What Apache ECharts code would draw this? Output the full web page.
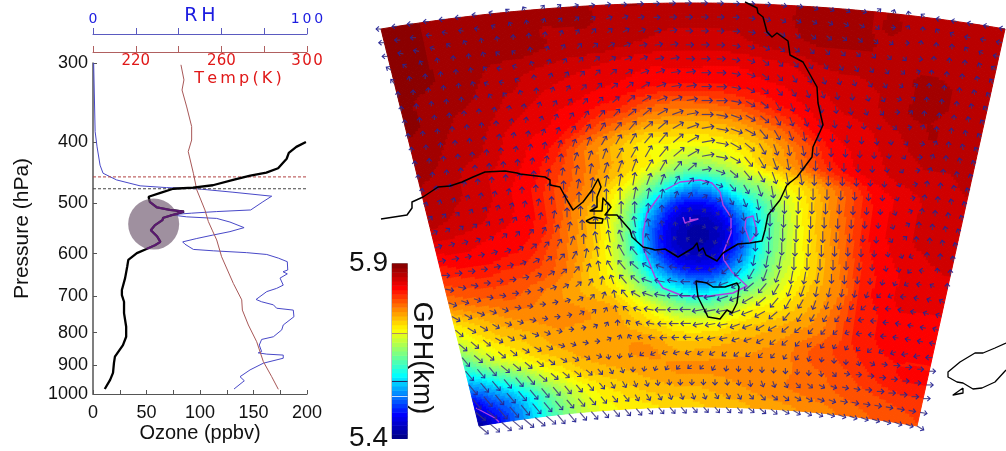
<!DOCTYPE html>
<html><head><meta charset="utf-8">
<style>html,body{margin:0;padding:0;background:#fff}#c{width:1006px;height:451px}</style>
<script src="https://cdn.jsdelivr.net/npm/echarts@6/dist/echarts.min.js"></script>
</head><body><div id="c"></div>
<script>
// ---------- Sounding profile ----------
const ozonePressure=[400,407,416,425,440,447,452,459,468,472,474,481,488,497,507,512,515,518,521,527,531,541,551,564,575,582,590,599,614,629,656,685,698,715,745,783,812,837,873,893,926,950,982];
const ozoneValues=[199,190,183,181,173,162,147,131,112,93.5,75,63,52,53,59.5,72,85,85,75,65.5,65,58,54,60,63,58,50,41,33,32,30,27,27,29,29,31,31,28,20.5,19.6,18.7,16,11];
const rhPressure=[300,385,387,407,409,435,448,459,469,472,474,480,487,497,512,515,518,521,525,528,535,546,554,561,568,575,580,591,594,598,602,610,618,637,641,646,656,673,681,689,709,715,723,732,737,755,778,792,812,820,837,857,861,865,868,878,894,916,939,953,982];
const rhValues=[0.3,1,1.9,1.9,2.8,3.3,4.7,11,22,34.4,48.5,65.4,83.5,79.4,73.7,57.8,46.1,36,43.8,57.8,64,70.6,64,56,48.5,41.9,43,46.9,56.2,71.8,81.2,86.6,90.8,91,88.8,90.8,87.4,88.9,85.8,81.2,76.2,78.8,84.3,85.8,93.6,93.9,88.9,88.2,84.3,78.8,77.7,78.8,77.2,81.2,88.9,88.9,79.6,73.4,68.7,70.7,65.9];
const tempPressure=[302,319,331,352,378,397,414,448,476,512,534,551,571,607,669,710,737,778,827,889,939,983];
const tempValues=[241.1,242.5,241.6,243.8,246.1,246.1,244.5,246.9,248.5,252.3,253.9,255.7,257.8,260.1,265.6,269.5,269.8,272.6,276.5,279.6,283.5,286.6];
const dashPressures=[454,474];
const layerCentre=[56.7,539];
const layerBottom=497, layerTop=590;
const pressureTicks=[300,400,500,600,700,800,900,1000];

// ---------- GPH field: rows north to south, 0-100 = 5.4-5.9 km ----------
const gphGrid=[
[98,98,97,97,96,96,96,96,95,95,95,94,94,94,94,94,95,96,96,95,95,94,94,93,93],
[98,98,97,96,96,96,95,95,95,94,94,93,93,93,93,94,95,96,96,95,95,94,94,93,93],
[98,98,97,97,96,96,95,94,94,93,92,91,91,91,92,93,94,95,95,95,94,94,94,93,93],
[98,98,97,96,94,93,92,91,90,89,88,88,88,88,88,89,90,92,93,93,94,95,95,94,93],
[98,97,96,95,93,92,90,89,88,87,86,85,85,85,86,87,88,90,91,92,93,95,96,94,93],
[98,97,95,94,92,90,88,87,85,83,79,77,77,78,80,83,86,88,90,91,93,95,95,94,93],
[97,96,94,93,90,88,87,84,79,75,71,70,69,70,72,76,80,86,88,89,91,93,95,94,93],
[96,95,93,92,89,87,84,77,72,67,63,62,61,62,65,69,74,80,86,88,90,92,93,93,93],
[95,94,92,90,88,86,81,76,72,67,62,55,51,54,59,66,71,77,83,87,89,91,92,92,93],
[94,93,92,90,87,84,79,75,68,61,49,38,31,36,46,52,61,67,74,80,86,88,90,91,92],
[93,92,91,89,87,84,78,71,64,51,34,18,13,17,30,42,55,64,72,79,85,88,90,91,92],
[89,89,88,87,86,83,76,70,61,45,24,10,5,8,20,38,52,63,71,78,85,88,90,91,92],
[85,86,86,85,84,80,75,69,60,43,22,9,5,8,19,38,52,62,70,77,84,87,89,90,91],
[80,81,82,81,80,78,74,67,60,47,30,17,12,15,28,42,54,62,69,76,83,86,88,89,89],
[74,76,77,78,76,74,71,68,64,55,42,34,28,31,41,50,58,65,70,75,83,86,88,88,88],
[64,68,71,73,74,74,73,72,70,64,58,50,47,49,56,62,64,68,72,77,83,85,87,87,87],
[56,62,66,68,70,72,72,72,71,69,66,63,62,63,66,68,70,72,74,78,83,85,86,86,86],
[43,52,59,63,67,69,71,72,72,73,72,69,69,70,71,72,73,75,78,80,82,84,85,85,85],
[28,34,42,50,58,63,67,69,70,71,72,73,73,73,73,73,74,75,77,78,80,82,84,85,85],
[12,20,27,36,46,54,60,64,66,68,69,70,70,71,72,73,74,75,76,77,78,79,80,81,81],
[3,12,22,32,42,50,57,61,63,64,65,66,67,68,69,70,71,72,73,74,76,77,78,79,80]
];

// ---------- Wind: direction in tens of degrees from north, and speed ----------
const windDir=[
[27,27,27,27,27,27,28,29,31,33,4,5,7,8,8,9,9,9,9,9,9,9,9,9,9,10,10,12,12,12,11,5,2,35,31,28,28,28,28,28],
[27,27,27,27,28,28,28,30,33,35,2,4,5,6,7,7,8,9,9,9,9,9,9,10,11,12,12,12,12,12,12,13,9,3,0,33,30,28,28,28],
[27,28,28,29,31,33,35,35,0,0,1,2,3,4,5,6,7,8,8,9,9,9,9,10,11,12,13,13,13,13,13,13,13,9,1,0,0,33,30,28],
[30,31,33,35,0,0,34,31,31,35,2,3,4,5,6,7,8,8,8,9,9,9,10,11,12,13,13,14,14,14,14,14,14,14,10,0,0,0,34,31],
[32,35,0,0,0,35,32,28,29,34,2,3,4,5,6,7,7,8,8,9,9,9,10,11,13,14,14,15,15,15,15,15,15,13,7,0,0,0,35,33],
[0,0,0,0,0,34,29,28,30,35,2,3,4,4,5,6,7,7,8,8,9,9,10,11,13,14,15,15,16,16,16,15,15,12,6,0,0,0,35,33],
[0,0,0,0,0,35,33,32,34,0,2,3,4,4,5,5,6,7,8,8,9,9,10,12,13,14,15,16,16,17,17,16,15,11,5,0,0,0,35,33],
[0,0,0,0,0,0,1,1,1,2,3,3,4,4,5,5,6,7,7,8,9,9,10,12,13,15,16,16,17,17,17,16,14,9,4,0,0,0,35,33],
[0,0,0,0,0,0,0,1,1,2,2,3,3,4,4,5,5,6,7,8,9,10,11,12,13,15,16,16,17,17,17,17,16,13,8,2,0,0,35,33],
[0,0,0,0,0,0,1,1,1,2,2,3,3,3,4,4,5,5,6,7,8,10,11,12,14,15,16,17,17,18,18,18,17,17,15,10,3,0,35,33],
[0,0,0,0,0,0,0,1,1,1,2,2,2,3,3,3,4,4,5,6,8,10,12,13,15,16,17,17,18,18,18,18,18,17,15,9,2,0,35,34],
[0,0,0,0,0,0,0,0,1,1,1,2,2,2,3,3,3,4,5,6,8,10,12,14,15,16,17,17,18,18,18,18,18,17,15,8,2,0,35,34],
[1,1,1,1,0,0,0,0,0,1,1,1,1,2,2,2,3,3,4,5,8,11,13,14,15,16,17,17,18,18,18,18,18,18,16,8,1,0,35,34],
[2,2,2,2,1,1,1,0,0,0,0,1,1,1,1,1,2,2,3,4,7,11,14,15,16,17,17,18,18,18,18,18,18,18,16,8,1,0,35,34],
[4,4,4,3,3,2,2,1,1,0,0,0,0,0,0,1,1,1,2,3,6,12,15,16,17,17,18,18,18,18,18,18,18,18,16,7,1,0,35,34],
[6,5,5,5,4,3,3,2,1,1,0,0,0,0,0,0,0,0,1,2,5,13,16,17,17,18,18,18,18,18,18,18,18,18,16,6,0,0,35,34],
[7,7,7,6,6,5,4,4,3,2,1,0,0,35,35,35,35,35,35,33,12,17,18,18,18,18,18,18,18,18,18,18,18,18,15,5,0,0,35,34],
[8,8,8,8,7,7,6,5,4,3,2,0,35,35,34,34,33,33,32,30,24,20,19,19,18,18,18,18,18,18,18,18,18,18,17,16,25,0,0,35],
[9,9,9,9,8,8,7,6,5,4,3,1,35,34,33,32,31,30,29,27,25,23,21,20,19,19,19,18,18,18,18,18,18,18,17,17,22,28,0,0],
[10,10,10,9,9,9,8,7,6,5,4,2,35,33,32,31,30,29,28,27,26,25,23,22,21,20,20,19,19,19,18,18,18,18,19,20,24,28,30,0],
[11,11,11,10,10,9,9,8,7,6,5,3,1,34,32,31,29,28,28,27,26,26,25,24,23,22,21,20,20,19,19,19,19,20,22,25,27,28,29,30],
[12,12,11,11,11,10,10,9,8,7,6,4,2,35,32,30,29,28,27,27,26,26,25,25,24,23,22,21,21,20,20,20,21,23,25,27,28,28,29,29],
[13,12,12,12,11,11,10,10,9,8,6,5,3,35,31,29,28,27,27,27,26,26,26,25,25,24,23,22,21,21,21,22,24,26,27,27,28,28,28,29],
[13,13,13,12,12,12,11,11,10,9,8,6,3,0,33,29,28,27,27,27,26,26,26,25,25,24,24,23,23,22,22,23,25,26,27,27,28,28,28,28],
[14,13,13,13,13,12,12,12,11,11,10,9,6,2,33,29,28,27,27,27,26,26,26,25,25,24,23,23,22,22,21,21,21,22,23,24,25,26,26,27],
[14,14,14,13,13,13,13,13,12,12,12,11,17,19,21,23,24,25,25,25,24,24,23,23,23,22,22,21,21,20,19,18,18,16,12,10,9,9,9,9],
[14,14,14,14,14,14,13,13,13,13,13,14,15,16,18,19,20,21,22,23,22,21,19,18,18,18,18,18,18,18,17,14,10,9,9,9,9,9,9,9],
[14,14,14,14,14,14,14,14,14,14,14,14,15,15,16,16,17,17,18,18,18,18,17,17,17,16,16,15,14,13,12,11,10,10,9,9,9,9,9,9],
[13,13,14,14,14,14,14,14,14,14,14,14,14,14,15,15,15,16,16,16,16,15,15,15,14,14,13,13,12,12,11,11,10,10,10,10,10,10,10,10],
[13,13,13,13,13,13,13,14,14,14,14,14,14,14,14,14,14,14,14,14,14,14,14,14,13,13,13,12,12,12,12,11,11,11,11,11,11,11,11,12]
];
const windSpeed=[
[4,4,5,5,5,5,4,3,3,3,4,4,5,5,5,5,6,6,6,6,6,6,6,5,5,5,5,5,5,5,5,4,3,3,4,4,5,5,5,5],
[5,5,5,5,5,4,4,3,3,3,4,4,5,5,6,6,6,6,7,7,7,7,6,6,6,6,5,5,5,5,5,4,3,3,3,4,4,5,5,5],
[5,5,5,4,4,4,4,4,4,4,4,5,5,6,6,7,7,7,7,7,7,7,7,7,6,6,6,6,6,5,5,5,4,3,3,3,4,4,4,5],
[5,4,4,4,4,4,4,4,3,4,4,5,6,6,7,7,8,8,8,8,8,8,8,7,7,7,6,6,6,6,5,5,5,4,3,3,4,4,4,5],
[5,4,4,4,4,4,4,4,4,4,5,5,6,7,7,8,8,9,9,9,9,9,8,8,8,7,7,7,6,6,6,5,5,4,3,3,4,4,4,5],
[5,4,4,4,4,4,4,4,4,4,5,6,6,7,8,8,9,10,10,10,10,10,9,9,9,8,8,7,7,6,6,6,5,4,3,4,4,4,4,5],
[4,4,4,4,4,4,4,4,4,5,5,6,7,8,8,9,10,11,11,11,11,11,10,10,9,9,8,8,7,7,6,6,5,4,3,4,4,4,4,5],
[4,4,4,4,4,4,4,4,4,5,6,7,7,8,9,10,11,12,12,12,12,12,11,11,10,10,9,8,8,7,7,6,5,4,3,4,4,4,5,5],
[4,4,4,4,4,4,4,5,5,5,6,7,8,9,10,11,12,13,13,13,13,13,13,12,12,11,10,9,9,8,7,6,5,4,3,4,4,5,5,5],
[4,4,4,4,4,4,5,5,5,6,7,8,9,10,11,12,13,14,14,14,14,14,14,13,13,12,11,10,9,8,8,7,6,4,3,4,4,5,5,5],
[4,4,4,4,4,5,5,5,6,7,8,8,10,11,12,13,14,15,15,15,15,14,14,14,14,13,12,11,10,9,8,7,6,4,3,4,4,5,5,5],
[4,4,4,4,5,5,5,6,6,7,8,9,10,12,13,14,15,15,16,15,14,13,13,14,14,14,13,12,11,10,9,8,6,4,3,4,5,5,5,5],
[4,4,4,5,5,5,6,6,7,8,8,10,11,12,14,15,15,14,13,12,10,10,11,13,14,14,14,13,12,11,9,8,6,5,3,4,5,5,5,5],
[4,4,4,5,5,5,6,6,7,8,9,10,11,13,14,15,14,12,10,8,7,7,9,11,13,14,14,14,13,11,10,8,7,5,3,4,5,5,5,5],
[5,5,4,5,5,5,6,6,7,8,9,11,12,13,14,14,12,10,7,6,5,5,7,9,12,14,15,14,13,12,10,9,7,5,4,4,5,5,5,5],
[6,5,5,5,5,6,6,6,7,8,10,11,12,14,14,13,10,7,5,4,3,3,5,8,11,14,15,15,14,12,11,9,7,5,4,4,5,5,5,5],
[7,6,6,5,5,6,6,7,7,8,10,11,13,14,14,12,8,5,3,2,2,2,4,7,10,14,15,15,14,13,11,9,7,6,4,4,4,5,5,5],
[7,7,6,6,6,6,6,7,7,8,10,11,13,14,14,12,8,5,3,2,2,3,5,8,11,14,15,15,14,13,11,9,8,6,4,4,4,4,5,5],
[8,7,7,6,6,6,6,7,7,8,9,10,12,13,14,12,9,7,5,4,4,5,7,9,12,14,15,15,14,13,11,9,8,6,5,4,4,4,4,5],
[9,8,7,6,6,6,6,6,7,7,8,9,11,12,13,12,11,9,8,7,7,8,9,11,13,14,15,15,14,12,10,9,7,6,5,4,4,4,4,5],
[9,8,7,6,6,6,5,5,6,6,7,8,9,10,12,12,12,11,11,10,10,10,11,12,14,14,14,14,13,11,10,8,7,6,5,5,5,4,4,5],
[10,9,8,7,6,6,5,5,5,5,6,6,7,8,10,11,12,12,12,12,12,13,13,13,14,14,14,13,11,10,8,7,6,6,5,5,5,5,5,5],
[11,10,9,8,7,6,6,5,5,4,5,5,5,6,7,8,10,12,12,12,12,13,13,13,13,13,12,11,10,8,7,6,5,5,5,5,5,5,5,5],
[12,11,10,9,8,7,7,6,5,4,4,4,4,5,5,6,8,9,10,11,11,11,11,11,11,10,10,9,8,7,6,5,4,5,5,5,5,5,5,5],
[13,12,11,10,9,8,8,7,6,5,5,4,4,4,4,5,6,7,7,8,8,8,8,8,8,8,7,7,6,6,5,4,4,4,5,5,5,6,6,6],
[14,13,12,12,11,10,9,8,7,7,6,5,4,4,4,4,5,5,6,6,6,6,6,6,6,6,5,5,5,5,4,4,4,4,5,5,6,6,6,6],
[15,14,14,13,13,12,11,10,9,9,8,7,6,5,4,4,4,4,4,4,4,5,5,5,5,5,5,5,5,5,5,5,5,5,6,6,6,6,6,7],
[16,15,15,15,14,14,13,12,11,10,9,8,7,7,6,6,5,5,5,5,5,5,5,5,6,6,6,6,6,6,6,6,6,6,6,7,7,7,7,7],
[15,15,16,16,15,15,14,13,12,11,10,9,8,8,7,7,7,6,6,6,6,6,6,6,6,7,7,7,7,7,7,7,7,7,7,7,7,7,7,7],
[14,14,15,15,15,15,14,13,12,11,11,10,9,9,9,8,8,8,8,7,7,7,7,7,7,8,8,8,8,8,8,8,8,8,8,8,8,8,8,8]
];

// ---------- Map outlines, in map-plane units ----------
const coastMain=[[381,219],[407,215],[412,208],[412,202],[423,197],[438,187],[450,186],[462,182],[473,177],[485,172],[505,171],[517,173],[520,174],[545,177],[550,180],[550,185],[560,187],[567,200],[573,210],[583,202],[592,190],[598,179],[601,187],[597,197],[597,207],[590,211],[602,211],[603,198],[611,207],[605,215],[617,215],[630,230],[632,237],[643,247],[652,249],[655,250],[665,249],[678,257],[693,248],[697,243],[699,251],[703,248],[706,255],[717,261],[723,253],[738,244],[750,243],[762,241],[765,230],[768,215],[780,200],[787,185],[797,177],[812,157],[813,147],[823,125],[818,103],[817,87],[803,62],[790,55],[788,41],[777,33],[772,37],[767,32],[763,17],[758,13],[757,8],[745,2]];
const coastIsland=[[586,221],[594,217],[603,219],[602,223],[590,223],[586,221]];
const coastTasmania=[[696,281],[707,283],[713,287],[725,287],[737,283],[739,287],[737,303],[732,313],[727,310],[720,319],[708,317],[703,307],[698,297],[696,281]];
const coastNZ=[[1006,343],[995,348],[983,353],[975,353],[960,362],[948,372],[948,377],[957,382],[963,383],[973,389],[982,388],[995,382],[1006,370]];
const coastStewart=[[963,388],[953,395],[963,393],[963,388]];
const contourMain=[[665,190],[680,182],[700,180],[712,183],[720,192],[723,205],[731,217],[731,233],[723,253],[724,260],[732,272],[747,286],[733,293],[710,296],[683,296],[663,288],[655,277],[643,247],[643,233],[647,213],[660,195]];
const contourInner=[[683,217],[685,223],[698,219],[690,220],[690,217]];
const contourEast=[[746,218],[753,216],[757,232],[750,242],[745,228],[746,218]];
const contourCorner=[[476,408],[495,418],[499,422]];

// ---------- Colour bar ----------
const barMin=5.4, barMax=5.9, bandCount=40;
const barTicks=[5.4,5.9];
const barLineLevels=[5.70,5.563,5.52];
const barLineColours=['#b09060','#202060','#c0e0ff'];
const rampStops=[[0,[0,0,128]],[.14,[0,0,255]],[.36,[0,255,255]],[.49,[128,255,128]],[.62,[255,255,0]],[.73,[255,145,0]],[.86,[255,0,0]],[1,[128,0,0]]];

function ramp(t){
  for(let k=1;k<rampStops.length;k++){
    if(t<=rampStops[k][0]){
      const a=rampStops[k-1],b=rampStops[k],f=(t-a[0])/(b[0]-a[0]);
      return 'rgb('+a[1].map((c,n)=>Math.round(c+(b[1][n]-c)*f)).join(',')+')';
    }
  }
  return 'rgb(128,0,0)';
}
const bandColours=[];
for(let k=0;k<bandCount;k++)bandColours.push(ramp((k+.5)/bandCount));
const bandRows=bandColours.map((c,k)=>[k]);

// Fan-shaped map grid -> map plane
function gridToMap(u,v){
  const xl=381+98*v,xr=1005-88*v,s=2*u-1;
  return [xl+(xr-xl)*u,3+404*v+(26-7*v)*s*s];
}
const nr=gphGrid.length,nc=gphGrid[0].length;
function at(j,i){j=Math.max(0,Math.min(nr-1,j));i=Math.max(0,Math.min(nc-1,i));return gphGrid[j][i];}
function cr(a,b,c,d,t){return .5*(2*b+(c-a)*t+(2*a-5*b+4*c-d)*t*t+(3*b-a-3*c+d)*t*t*t);}
function fieldAt(fi,fj){
  const i=Math.floor(fi),j=Math.floor(fj),s=fi-i,t=fj-j,r=[];
  for(let m=-1;m<3;m++)r.push(cr(at(j+m,i-1),at(j+m,i),at(j+m,i+1),at(j+m,i+2),s));
  return cr(r[0],r[1],r[2],r[3],t);
}
const cellData=[];
for(let j=0;j<nr-1;j++)for(let i=0;i<nc-1;i++)cellData.push([i,j,gphGrid[j][i]]);
const arrowData=[];
windDir.forEach((row,r)=>row.forEach((d,c)=>arrowData.push([c,r,d,(windSpeed[r]&&windSpeed[r][c])||5])));
const SUB=8;
function renderCell(params,api){
  const i=api.value(0),j=api.value(1),kids=[];
  for(let a=0;a<SUB;a++)for(let b=0;b<SUB;b++){
    const fi=i+(a+.5)/SUB,fj=j+(b+.5)/SUB;
    let k=Math.floor(fieldAt(fi,fj)/100*bandCount);k=Math.max(0,Math.min(bandCount-1,k));
    const pts=[[a,b],[a+1,b],[a+1,b+1],[a,b+1]].map(p=>api.coord(gridToMap((i+p[0]/SUB)/(nc-1),(j+p[1]/SUB)/(nr-1))));
    kids.push({type:'polygon',shape:{points:pts},style:{fill:bandColours[k],stroke:bandColours[k],lineWidth:1},silent:true});
  }
  return {type:'group',children:kids,silent:true};
}
function renderArrow(params,api){
  const c=api.value(0),r=api.value(1),th=api.value(2)*10*Math.PI/180,len=2+api.value(3)*.72;
  const p=gridToMap(c/39,r/29);
  const dirAt=(ang,l,from)=>[from[0]+l*Math.sin(ang),from[1]-l*Math.cos(ang)];
  const tip=dirAt(th,len,p),hl=3.8;
  const h1=dirAt(th+2.4,hl,tip),h2=dirAt(th-2.4,hl,tip);
  return {type:'group',silent:true,children:[
    {type:'polyline',shape:{points:[p,tip].map(q=>api.coord(q))},style:{fill:null,stroke:'rgba(60,50,120,0.85)',lineWidth:1.15},silent:true},
    {type:'polyline',shape:{points:[h1,tip,h2].map(q=>api.coord(q))},style:{fill:null,stroke:'rgba(35,35,150,0.92)',lineWidth:1.1},silent:true}
  ]};
}
const outline=(data,color,width,z)=>({type:'line',xAxisIndex:3,yAxisIndex:1,data,showSymbol:false,symbol:'none',silent:true,z,clip:false,lineStyle:{color,width,join:'round'}});

const SANS='"Liberation Sans",Arial,sans-serif', DJ='"DejaVu Sans",sans-serif';
const RHC='#1c1ce0',TC='#e01818',RHL='#5a5ac0',TL='#b06060',AX='#555';
const pair=(ps,vs)=>ps.map((p,i)=>[vs[i],p]);
const ozoneData=pair(ozonePressure,ozoneValues);
const layerData=ozoneData.filter(d=>d[1]>=layerBottom&&d[1]<=layerTop);

const chart=echarts.init(document.getElementById('c'),null,{renderer:'canvas'});
chart.setOption({
  animation:false,backgroundColor:'#fff',
  grid:[
    {left:93,top:63,width:214,height:331,outerBoundsMode:'none',containLabel:false},
    {left:0,top:0,width:1006,height:451,outerBoundsMode:'none'},
    {left:392,top:263.5,width:15.5,height:175,show:true,borderColor:'#888',borderWidth:1,outerBoundsMode:'none'}
  ],
  xAxis:[
    {type:'value',gridIndex:0,position:'bottom',min:0,max:200,interval:25,splitLine:{show:false},
      axisLine:{lineStyle:{color:AX,width:1.2}},axisTick:{inside:true,length:4,lineStyle:{color:AX}},
      axisLabel:{fontFamily:SANS,fontSize:18,color:'#111',margin:10,showMinLabel:true,showMaxLabel:true,hideOverlap:false,formatter:v=>v%50===0?String(v):''},
      name:'Ozone (ppbv)',nameLocation:'middle',nameGap:29,nameMoveOverlap:false,nameTextStyle:{fontFamily:SANS,fontSize:20,color:'#111'}},
    {type:'value',gridIndex:0,position:'top',offset:29,min:0,max:100,interval:20,splitLine:{show:false},
      axisLine:{onZero:false,lineStyle:{color:RHL,width:1}},axisTick:{length:6,lineStyle:{color:RHL}},
      axisLabel:{fontFamily:DJ,fontSize:14,color:RHC,margin:8,showMinLabel:true,showMaxLabel:true,formatter:v=>v===0?'0':v===100?'1\u200a\u200a0\u200a\u200a0':''},
      name:'R\u2009H',nameLocation:'middle',nameGap:18,nameMoveOverlap:false,nameTextStyle:{fontFamily:DJ,fontSize:19,color:RHC,verticalAlign:'middle'}},
    {type:'value',gridIndex:0,position:'top',offset:11,min:200,max:300,interval:20,splitLine:{show:false},
      axisLine:{onZero:false,lineStyle:{color:TL,width:1}},axisTick:{length:6,lineStyle:{color:TL}},
      axisLabel:{inside:true,fontFamily:DJ,fontSize:15,color:TC,margin:2,showMaxLabel:true,formatter:v=>v===220?'220':v===260?'260':v===300?'3\u200a0\u200a0':''},
      name:'T\u2009e\u2009m\u2009p\u2009(\u2009K\u2009)',nameLocation:'middle',nameGap:-27,nameMoveOverlap:false,nameTextStyle:{fontFamily:DJ,fontSize:16,color:TC,verticalAlign:'middle',padding:[0,0,0,76]}},
    {type:'value',gridIndex:1,min:0,max:1006,show:false},
    {type:'value',gridIndex:2,min:0,max:1,show:false}
  ],
  yAxis:[
    {type:'log',gridIndex:0,min:300,max:1000,logBase:10,inverse:true,splitLine:{show:false},minorTick:{show:false},
      axisLine:{onZero:false,lineStyle:{color:AX,width:1.5}},
      axisTick:{inside:true,length:4,lineStyle:{color:AX},customValues:pressureTicks},
      axisLabel:{fontFamily:SANS,fontSize:18,color:'#111',margin:5,customValues:pressureTicks,formatter:v=>String(Math.round(v))},
      name:'Pressure (hPa)',nameLocation:'middle',nameGap:60,nameMoveOverlap:false,nameTextStyle:{fontFamily:SANS,fontSize:21,color:'#111'}},
    {type:'value',gridIndex:1,min:0,max:451,inverse:true,show:false},
    {type:'value',gridIndex:2,min:barMin,max:barMax,position:'left',splitLine:{show:false},axisLine:{show:false},axisTick:{show:false},
      axisLabel:{fontFamily:SANS,fontSize:28,color:'#111',margin:4,customValues:barTicks,padding:[5,0,0,0],formatter:v=>v.toFixed(1)}},
    {type:'value',gridIndex:2,min:barMin,max:barMax,position:'right',splitLine:{show:false},axisLine:{show:false},axisTick:{show:false},axisLabel:{show:false},
      name:'GPH(km)',nameLocation:'middle',nameGap:0,nameRotate:-90,nameMoveOverlap:false,nameTextStyle:{fontFamily:SANS,fontSize:27,color:'#111',padding:[0,0,0,14]}}
  ],
  series:[
    {type:'custom',xAxisIndex:3,yAxisIndex:1,data:cellData,renderItem:renderCell,encode:{x:0,y:1},silent:true,z:1,clip:false},
    outline(contourMain,'#b040e0',1.4,3),outline(contourInner,'#b040e0',1.4,3),outline(contourEast,'#b040e0',1.4,3),outline(contourCorner,'#b040e0',1.4,3),
    {type:'custom',xAxisIndex:3,yAxisIndex:1,data:arrowData,renderItem:renderArrow,encode:{x:0,y:1},silent:true,z:4,clip:false},
    outline(coastMain,'#000',1.5,5),outline(coastIsland,'#000',1.5,5),outline(coastTasmania,'#000',1.5,5),outline(coastNZ,'#000',1.3,5),outline(coastStewart,'#000',1.3,5),
    {type:'custom',xAxisIndex:4,yAxisIndex:2,data:bandRows,silent:true,z:6,clip:false,encode:{x:[],y:0},
      renderItem:(p,api)=>{
        const k=api.value(0),st=(barMax-barMin)/bandCount;
        const a=api.coord([0,barMin+k*st]),b=api.coord([1,barMin+(k+1)*st]);
        return {type:'rect',shape:{x:a[0],y:b[1],width:b[0]-a[0],height:a[1]-b[1]+.5},style:{fill:bandColours[k]},silent:true};
      }},
    ...barLineLevels.map((lv,i)=>({type:'line',xAxisIndex:4,yAxisIndex:2,data:[[0,lv],[1,lv]],symbol:'none',silent:true,z:7,lineStyle:{color:barLineColours[i],width:1}})),
    {type:'line',xAxisIndex:1,yAxisIndex:0,data:pair(rhPressure,rhValues),symbol:'none',silent:true,z:3,clip:false,lineStyle:{color:'#4848c8',width:1}},
    {type:'line',xAxisIndex:2,yAxisIndex:0,data:pair(tempPressure,tempValues),symbol:'none',silent:true,z:3,clip:false,lineStyle:{color:'#a85858',width:1}},
    ...dashPressures.map((p,i)=>({type:'line',xAxisIndex:0,yAxisIndex:0,data:[[0,p],[200,p]],symbol:'none',silent:true,z:3,lineStyle:{color:i?'#444':'#b04040',width:1,type:[3,2]}})),
    {type:'line',xAxisIndex:0,yAxisIndex:0,data:ozoneData,symbol:'none',silent:true,z:4,clip:false,lineStyle:{color:'#000',width:2.3}},
    {type:'scatter',xAxisIndex:0,yAxisIndex:0,data:[layerCentre],symbolSize:51,silent:true,z:5,itemStyle:{color:'#6b556b',opacity:.65,borderWidth:0}},
    {type:'line',xAxisIndex:0,yAxisIndex:0,data:layerData,symbol:'none',silent:true,z:6,lineStyle:{color:'#5a1870',width:2}}
  ]
});
</script></body></html>
